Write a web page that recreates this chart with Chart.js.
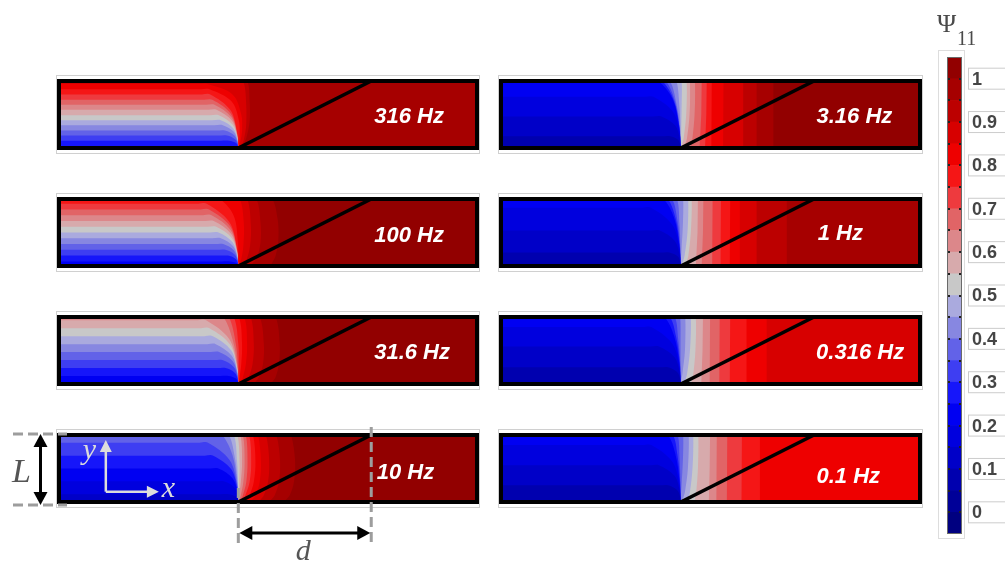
<!DOCTYPE html>
<html>
<head>
<meta charset="utf-8">
<title>Ψ11 field maps</title>
<script src="https://cdn.jsdelivr.net/npm/chart.js@4.4.1/dist/chart.umd.min.js"></script>
<style>
  html, body { margin: 0; padding: 0; background: #fff; }
  body { position: relative; width: 1005px; height: 562px; overflow: hidden; }
  canvas { position: absolute; }
</style>
</head>
<body>
<script>
// ---- colour scale: Ψ11 bands of width 0.05 ----
const bandEdges = [-0.05, 0, 0.05, 0.1, 0.15, 0.2, 0.25, 0.3, 0.35, 0.4, 0.45, 0.5,
                   0.55, 0.6, 0.65, 0.7, 0.75, 0.8, 0.85, 0.9, 0.95, 1.0, 1.05];
const bandColors = [
  'rgb(0,0,128)', 'rgb(0,0,152)', 'rgb(0,0,175)', 'rgb(0,0,200)', 'rgb(0,0,222)',
  'rgb(0,0,242)', 'rgb(22,22,250)', 'rgb(62,62,242)', 'rgb(98,98,232)', 'rgb(135,135,225)',
  'rgb(170,170,222)', 'rgb(200,200,200)', 'rgb(215,170,172)', 'rgb(220,135,138)',
  'rgb(225,100,102)', 'rgb(238,58,62)', 'rgb(245,22,22)', 'rgb(238,0,0)',
  'rgb(215,0,0)', 'rgb(188,0,0)', 'rgb(166,0,0)', 'rgb(146,0,0)'
];
const tickValues = [0, 0.1, 0.2, 0.3, 0.4, 0.5, 0.6, 0.7, 0.8, 0.9, 1];
const tickLabels = ['0', '0.1', '0.2', '0.3', '0.4', '0.5', '0.6', '0.7', '0.8', '0.9', '1'];

// ---- geometry: x in % of the strip length, y in units of L (0 bottom, 1 top) ----
const interfaceX = [42.9, 74.7];   // inclined interface, bottom end and top end

// ---- iso-lines of Ψ11 for each frequency: [level, points]; values below a level lie under its line ----
const field316 = [
  [0.25, [[0,.03],[39.2,.03],[41.2,.03],[42.41,.021],[42.82,.009],[42.9,0]]],
  [0.30, [[0,.108],[38.7,.108],[40.7,.108],[42.26,.077],[42.79,.033],[42.9,0]]],
  [0.35, [[0,.185],[38.2,.185],[40.2,.185],[42.12,.131],[42.77,.057],[42.9,0]]],
  [0.40, [[0,.26],[37.7,.26],[39.7,.26],[41.97,.185],[42.74,.081],[42.9,0]]],
  [0.45, [[0,.34],[37.2,.34],[39.2,.34],[41.83,.241],[42.72,.105],[42.9,0]]],
  [0.50, [[0,.415],[36.7,.415],[38.7,.415],[41.68,.295],[42.69,.129],[42.9,0]]],
  [0.55, [[0,.49],[36.2,.49],[38.2,.49],[41.54,.348],[42.67,.152],[42.9,0]]],
  [0.60, [[0,.57],[35.7,.57],[37.7,.57],[41.39,.405],[42.64,.177],[42.9,0]]],
  [0.65, [[0,.646],[35.2,.646],[37.2,.646],[41.25,.459],[42.62,.2],[42.9,0]]],
  [0.70, [[0,.72],[34.7,.72],[36.7,.72],[41.1,.51],[42.59,.22],[42.9,0]]],
  [0.75, [[0,.80],[34.2,.80],[36.2,.80],[40.96,.57],[42.57,.25],[42.9,0]]],
  [0.80, [[0,.877],[34.0,.877],[36.0,.877],[41.2,.70],[43.0,.42],[43.2,.15],[43.0,0],[43.3,0]]],
  [0.85, [[0,.954],[33.5,.954],[35.5,.954],[41.5,.80],[43.6,.50],[43.8,.25],[43.2,0],[43.9,0]]],
  [0.90, [[0,1],[42.0,1],[44.0,1],[44.8,.65],[44.8,.35],[44.2,.12],[43.5,0],[44.9,0]]],
  [0.95, [[0,1],[43.0,1],[45.0,1],[45.6,.70],[45.6,.40],[44.8,.15],[43.8,0],[45.7,0]]]
];
const field100 = [
  [0.25, [[0,.069],[38.95,.069],[40.95,.069],[42.33,.049],[42.8,.021],[42.9,0]]],
  [0.30, [[0,.155],[38.4,.155],[40.4,.155],[42.18,.11],[42.78,.048],[42.9,0]]],
  [0.35, [[0,.241],[37.8,.241],[39.8,.241],[42.0,.171],[42.75,.075],[42.9,0]]],
  [0.40, [[0,.328],[37.3,.328],[39.3,.328],[41.86,.233],[42.72,.102],[42.9,0]]],
  [0.45, [[0,.414],[36.7,.414],[38.7,.414],[41.68,.294],[42.69,.128],[42.9,0]]],
  [0.50, [[0,.5],[36.15,.5],[38.15,.5],[41.52,.355],[42.66,.155],[42.9,0]]],
  [0.55, [[0,.586],[35.6,.586],[37.6,.586],[41.36,.416],[42.64,.182],[42.9,0]]],
  [0.60, [[0,.672],[35.0,.672],[37.0,.672],[41.19,.477],[42.61,.208],[42.9,0]]],
  [0.65, [[0,.759],[34.5,.759],[36.5,.759],[41.04,.539],[42.58,.235],[42.9,0]]],
  [0.70, [[0,.845],[33.9,.845],[35.9,.845],[40.87,.6],[42.55,.262],[42.9,0]]],
  [0.75, [[0,.93],[33.35,.93],[35.35,.93],[40.71,.66],[42.52,.29],[42.9,0]]],
  [0.80, [[0,1],[36.5,1],[38.5,1],[41.8,.75],[42.8,.35],[43.0,0]]],
  [0.85, [[0,1],[41.2,1],[43.2,1],[44.2,.65],[44.1,.3],[43.6,.1],[43.2,0],[44.3,0]]],
  [0.90, [[0,1],[43.0,1],[45.0,1],[45.9,.6],[45.7,.3],[44.9,.1],[44.0,0],[46.0,0]]],
  [0.95, [[0,1],[45.2,1],[47.2,1],[48.2,.65],[48.2,.35],[47.3,.12],[46.0,0],[48.3,0]]],
  [1.00, [[0,1],[49.0,1],[51.0,1],[52.3,.7],[52.5,.4],[51.8,.15],[50.8,0],[52.6,0]]]
];
const field31_6 = [
  [0.25, [[0,.119],[38.6,.119],[40.6,.119],[42.23,.084],[42.79,.037],[42.9,0]]],
  [0.30, [[0,.238],[37.9,.238],[39.9,.238],[42.03,.169],[42.75,.074],[42.9,0]]],
  [0.35, [[0,.357],[37.1,.357],[39.1,.357],[41.8,.253],[42.71,.111],[42.9,0]]],
  [0.40, [[0,.476],[36.3,.476],[38.3,.476],[41.57,.338],[42.67,.148],[42.9,0]]],
  [0.45, [[0,.595],[35.5,.595],[37.5,.595],[41.33,.422],[42.63,.184],[42.9,0]]],
  [0.50, [[0,.714],[34.8,.714],[36.8,.714],[41.13,.507],[42.6,.221],[42.9,0]]],
  [0.55, [[0,.833],[34.0,.833],[36.0,.833],[40.9,.591],[42.56,.258],[42.9,0]]],
  [0.60, [[0,.952],[33.2,.952],[35.2,.952],[40.67,.676],[42.52,.295],[42.9,0]]],
  [0.65, [[0,1],[37.3,1],[39.3,1],[41.6,.65],[42.65,.28],[42.9,0]]],
  [0.70, [[0,1],[38.6,1],[40.6,1],[42.3,.6],[42.8,.25],[42.9,0]]],
  [0.75, [[0,1],[39.8,1],[41.8,1],[42.9,.6],[43.0,.3],[42.95,0],[43.1,0]]],
  [0.80, [[0,1],[41.0,1],[43.0,1],[43.8,.6],[43.6,.3],[43.2,.1],[43.0,0],[43.9,0]]],
  [0.85, [[0,1],[42.3,1],[44.3,1],[45.0,.6],[44.7,.3],[44.0,.1],[43.5,0],[45.1,0]]],
  [0.90, [[0,1],[43.8,1],[45.8,1],[46.6,.6],[46.3,.3],[45.4,.1],[44.6,0],[46.7,0]]],
  [0.95, [[0,1],[46.0,1],[48.0,1],[49.0,.6],[48.8,.3],[47.8,.1],[46.8,0],[49.1,0]]],
  [1.00, [[0,1],[49.8,1],[51.8,1],[52.8,.6],[52.6,.3],[51.8,.1],[50.8,0],[52.9,0]]]
];
const field10 = [
  [0.15, [[0,.115],[38.65,.115],[40.65,.115],[42.25,.082],[42.79,.036],[42.9,0]]],
  [0.20, [[0,.308],[37.4,.308],[39.4,.308],[41.9,.219],[42.73,.095],[42.9,0]]],
  [0.25, [[0,.5],[36.15,.5],[38.15,.5],[41.52,.355],[42.66,.155],[42.9,0]]],
  [0.30, [[0,.692],[34.9,.692],[36.9,.692],[41.16,.491],[42.6,.215],[42.9,0]]],
  [0.35, [[0,.885],[33.65,.885],[35.65,.885],[40.8,.628],[42.54,.274],[42.9,0]]],
  [0.40, [[0,1],[37.0,1],[39.0,1],[41.5,.7],[42.6,.3],[42.9,0]]],
  [0.45, [[0,1],[38.6,1],[40.6,1],[42.1,.65],[42.75,.28],[42.9,0]]],
  [0.50, [[0,1],[39.8,1],[41.8,1],[42.6,.6],[42.85,.3],[42.9,0]]],
  [0.55, [[0,1],[41.7,1],[42.7,1],[43.2,.6],[43.1,.3],[42.95,.1],[42.9,0],[43.3,0]]],
  [0.60, [[0,1],[42.4,1],[43.4,1],[43.8,.6],[43.5,.3],[43.1,.1],[43.0,0],[43.9,0]]],
  [0.65, [[0,1],[43.0,1],[44.0,1],[44.4,.6],[44.1,.3],[43.5,.1],[43.2,0],[44.5,0]]],
  [0.70, [[0,1],[43.7,1],[44.7,1],[45.1,.6],[44.8,.3],[44.0,.1],[43.5,0],[45.2,0]]],
  [0.75, [[0,1],[44.5,1],[45.5,1],[46.0,.6],[45.6,.3],[44.6,.1],[44.0,0],[46.1,0]]],
  [0.80, [[0,1],[45.4,1],[46.4,1],[47.0,.6],[46.6,.3],[45.6,.1],[44.8,0],[47.1,0]]],
  [0.85, [[0,1],[46.6,1],[47.6,1],[48.3,.6],[48.0,.3],[47.0,.1],[46.0,0],[48.4,0]]],
  [0.90, [[0,1],[48.5,1],[49.5,1],[50.3,.6],[50.0,.3],[49.0,.1],[48.0,0],[50.4,0]]],
  [0.95, [[0,1],[51.0,1],[52.0,1],[52.9,.6],[52.6,.3],[51.6,.1],[50.5,0],[53.0,0]]],
  [1.00, [[0,1],[54.5,1],[55.5,1],[56.5,.6],[56.2,.3],[55.2,.1],[54.0,0],[56.6,0]]]
];
const field3_16 = [
  [0.10, [[0,.176],[38.4,.176],[40.4,.176],[42.25,.125],[42.77,.055],[42.9,0]]],
  [0.15, [[0,.47],[36.3,.47],[38.3,.47],[41.57,.334],[42.67,.146],[42.9,0]]],
  [0.20, [[0,.765],[34.4,.765],[36.4,.765],[41.0,.543],[42.58,.237],[42.9,0]]],
  [0.25, [[0,1],[35.5,1],[37.5,1],[40.9,.74],[42.5,.32],[42.9,0]]],
  [0.30, [[0,1],[36.5,1],[38.5,1],[41.2,.72],[42.55,.32],[42.9,0]]],
  [0.35, [[0,1],[37.3,1],[39.3,1],[41.5,.7],[42.6,.3],[42.9,0]]],
  [0.40, [[0,1],[38.3,1],[40.3,1],[41.9,.65],[42.7,.3],[42.9,0]]],
  [0.45, [[0,1],[40.9,1],[41.9,1],[42.6,.6],[42.85,.25],[42.9,0]]],
  [0.50, [[0,1],[42.6,1],[43.1,1],[43.1,.6],[43.0,.25],[42.9,0],[43.2,0]]],
  [0.55, [[0,1],[43.8,1],[44.3,1],[44.2,.5],[43.6,.15],[43.2,0],[44.4,0]]],
  [0.60, [[0,1],[44.6,1],[45.1,1],[45.0,.5],[44.4,.15],[43.9,0],[45.2,0]]],
  [0.65, [[0,1],[45.8,1],[46.3,1],[46.2,.5],[45.7,.15],[45.3,0],[46.4,0]]],
  [0.70, [[0,1],[47.9,1],[47.8,.5],[47.4,0],[100,0]]],
  [0.75, [[0,1],[49.1,1],[49.0,.5],[48.7,0],[100,0]]],
  [0.80, [[0,1],[50.3,1],[50.2,0],[100,0]]],
  [0.85, [[0,1],[53.1,1],[53.0,0],[100,0]]],
  [0.90, [[0,1],[57.8,1],[57.8,0],[100,0]]],
  [0.95, [[0,1],[61.0,1],[61.0,0],[100,0]]],
  [1.00, [[0,1],[65.0,1],[65.0,0],[100,0]]]
];
const field1 = [
  [0.10, [[0,.2],[38.2,.2],[40.2,.2],[42.2,.142],[42.76,.062],[42.9,0]]],
  [0.15, [[0,.53],[35.9,.53],[37.9,.53],[41.45,.376],[42.65,.164],[42.9,0]]],
  [0.20, [[0,.87],[33.8,.87],[35.8,.87],[40.84,.618],[42.55,.27],[42.9,0]]],
  [0.25, [[0,1],[36.8,1],[38.8,1],[41.3,.72],[42.55,.32],[42.9,0]]],
  [0.30, [[0,1],[37.8,1],[39.8,1],[41.7,.7],[42.65,.3],[42.9,0]]],
  [0.35, [[0,1],[38.8,1],[40.8,1],[42.1,.68],[42.75,.28],[42.9,0]]],
  [0.40, [[0,1],[40.5,1],[42.0,1],[42.6,.62],[42.85,.25],[42.9,0]]],
  [0.45, [[0,1],[43.0,1],[43.5,1],[43.4,.6],[43.1,.25],[42.95,0],[43.6,0]]],
  [0.50, [[0,1],[44.2,1],[44.7,1],[44.5,.5],[43.8,.15],[43.3,0],[44.8,0]]],
  [0.55, [[0,1],[45.0,1],[45.5,1],[45.3,.5],[44.7,.15],[44.2,0],[45.6,0]]],
  [0.60, [[0,1],[47.0,1],[46.9,.5],[46.5,0],[100,0]]],
  [0.65, [[0,1],[48.3,1],[48.2,.5],[47.9,0],[100,0]]],
  [0.70, [[0,1],[50.5,1],[50.4,0],[100,0]]],
  [0.75, [[0,1],[52.5,1],[52.4,0],[100,0]]],
  [0.80, [[0,1],[54.7,1],[54.6,0],[100,0]]],
  [0.85, [[0,1],[57.0,1],[57.0,0],[100,0]]],
  [0.90, [[0,1],[61.0,1],[61.0,0],[100,0]]],
  [0.95, [[0,1],[68.2,1],[68.2,0],[100,0]]]
];
const field0_316 = [
  [0.10, [[0,.25],[37.9,.25],[39.9,.25],[42.03,.178],[42.75,.078],[42.9,0]]],
  [0.15, [[0,.56],[35.7,.56],[37.7,.56],[41.4,.4],[42.64,.174],[42.9,0]]],
  [0.20, [[0,.85],[33.9,.85],[35.9,.85],[40.88,.6],[42.55,.264],[42.9,0]]],
  [0.25, [[0,1],[37.0,1],[39.0,1],[41.3,.72],[42.55,.32],[42.9,0]]],
  [0.30, [[0,1],[38.3,1],[40.3,1],[41.8,.7],[42.7,.3],[42.9,0]]],
  [0.35, [[0,1],[40.0,1],[41.5,1],[42.3,.66],[42.8,.28],[42.9,0]]],
  [0.40, [[0,1],[42.3,1],[42.8,1],[42.9,.6],[42.9,.25],[42.9,0]]],
  [0.45, [[0,1],[43.5,1],[44.0,1],[43.9,.5],[43.3,.15],[43.0,0],[44.1,0]]],
  [0.50, [[0,1],[44.8,1],[45.3,1],[45.1,.5],[44.4,.15],[43.9,0],[45.4,0]]],
  [0.55, [[0,1],[46.0,1],[46.5,1],[46.4,.5],[45.9,.15],[45.5,0],[46.6,0]]],
  [0.60, [[0,1],[48.2,1],[48.1,.5],[47.8,0],[100,0]]],
  [0.65, [[0,1],[49.9,1],[49.8,0],[100,0]]],
  [0.70, [[0,1],[52.2,1],[52.1,0],[100,0]]],
  [0.75, [[0,1],[54.7,1],[54.6,0],[100,0]]],
  [0.80, [[0,1],[58.6,1],[58.6,0],[100,0]]],
  [0.85, [[0,1],[63.4,1],[63.4,0],[100,0]]]
];
const field0_1 = [
  [0.10, [[0,.25],[37.9,.25],[39.9,.25],[42.03,.178],[42.75,.078],[42.9,0]]],
  [0.15, [[0,.55],[35.7,.55],[37.7,.55],[41.4,.39],[42.64,.17],[42.9,0]]],
  [0.20, [[0,.85],[33.9,.85],[35.9,.85],[40.88,.6],[42.55,.264],[42.9,0]]],
  [0.25, [[0,1],[37.8,1],[39.8,1],[41.6,.72],[42.6,.32],[42.9,0]]],
  [0.30, [[0,1],[39.0,1],[41.0,1],[42.1,.7],[42.75,.3],[42.9,0]]],
  [0.35, [[0,1],[41.2,1],[42.2,1],[42.6,.66],[42.85,.28],[42.9,0]]],
  [0.40, [[0,1],[43.0,1],[43.5,1],[43.4,.6],[43.1,.25],[42.95,0],[43.6,0]]],
  [0.45, [[0,1],[44.3,1],[44.8,1],[44.6,.5],[43.9,.15],[43.4,0],[44.9,0]]],
  [0.50, [[0,1],[45.4,1],[45.9,1],[45.7,.5],[45.1,.15],[44.6,0],[46.0,0]]],
  [0.55, [[0,1],[46.6,1],[47.1,1],[47.0,.5],[46.6,.15],[46.3,0],[47.2,0]]],
  [0.60, [[0,1],[49.9,1],[49.8,.5],[49.6,0],[100,0]]],
  [0.65, [[0,1],[51.5,1],[51.4,0],[100,0]]],
  [0.70, [[0,1],[54.0,1],[53.9,0],[100,0]]],
  [0.75, [[0,1],[57.5,1],[57.4,0],[100,0]]],
  [0.80, [[0,1],[61.8,1],[61.8,0],[100,0]]]
];

// panels, left column top to bottom, then right column
const frequencyLabels = ['316 Hz', '100 Hz', '31.6 Hz', '10 Hz', '3.16 Hz', '1 Hz', '0.316 Hz', '0.1 Hz'];
const panelFields = [field316, field100, field31_6, field10, field3_16, field1, field0_316, field0_1];
const panelMax = [0.97, 1.02, 1.02, 1.02, 1.02, 0.97, 0.87, 0.82];   // Ψ11 at the right end of each strip
const labelX = [75.4, 75.4, 75.4, 76.0, 75.3, 75.6, 75.2, 75.3];
const labelY = [0.37, 0.36, 0.38, 0.35, 0.37, 0.39, 0.37, 0.28];

// ---- helpers ----
function bandColor(v) {
  if (v < bandEdges[0]) return bandColors[0];
  for (let k = 0; k < bandEdges.length - 1; k++) {
    if (v >= bandEdges[k] && v < bandEdges[k + 1]) return bandColors[k];
  }
  return bandColors[bandColors.length - 1];
}

function addCanvas(left, top, w, h) {
  const c = document.createElement('canvas');
  c.width = w; c.height = h;
  c.style.left = left + 'px'; c.style.top = top + 'px';
  c.style.width = w + 'px'; c.style.height = h + 'px';
  document.body.appendChild(c);
  return c;
}

const panelDecor = {
  id: 'panelDecor',
  beforeDatasetsDraw(chart) {
    const {ctx, chartArea: a} = chart;
    ctx.save();
    ctx.strokeStyle = '#d0d0d0';
    ctx.lineWidth = 1;
    ctx.strokeRect(a.left - 2.5, a.top - 5.5, a.width + 5, a.height + 11);
    ctx.restore();
  },
  afterDatasetsDraw(chart, args, opts) {
    const {ctx, chartArea: a, scales: {x, y}} = chart;
    ctx.save();
    ctx.strokeStyle = '#000';
    ctx.lineWidth = 4;
    ctx.strokeRect(a.left, a.top, a.width, a.height);
    ctx.fillStyle = '#fff';
    ctx.font = 'italic bold 22px "Liberation Sans", Arial, sans-serif';
    ctx.textBaseline = 'alphabetic';
    ctx.textAlign = 'left';
    ctx.fillText(opts.label, x.getPixelForValue(opts.lx), y.getPixelForValue(opts.ly));
    ctx.restore();
  }
};

function arrowHead(ctx, x, y, dx, dy, len, half, color) {
  const n = Math.hypot(dx, dy), ux = dx / n, uy = dy / n;
  ctx.fillStyle = color;
  ctx.beginPath();
  ctx.moveTo(x, y);
  ctx.lineTo(x - ux * len - uy * half, y - uy * len + ux * half);
  ctx.lineTo(x - ux * len + uy * half, y - uy * len - ux * half);
  ctx.closePath();
  ctx.fill();
}
function segment(ctx, x1, y1, x2, y2) {
  ctx.beginPath(); ctx.moveTo(x1, y1); ctx.lineTo(x2, y2); ctx.stroke();
}

// sketch of the strip height L, interface offset d and the x-y frame
const schematic = {
  id: 'schematic',
  afterDraw(chart) {
    const {ctx, chartArea: a, scales: {x, y}} = chart;
    const top = y.getPixelForValue(1), bot = y.getPixelForValue(0);
    const xa = x.getPixelForValue(interfaceX[0]), xb = x.getPixelForValue(interfaceX[1]);
    ctx.save();
    ctx.strokeStyle = '#9d9d9d';
    ctx.lineWidth = 3;
    ctx.setLineDash([10, 5]);
    segment(ctx, a.left - 46, top - 1, a.left + 8, top - 1);
    segment(ctx, a.left - 46, bot + 3, a.left + 8, bot + 3);
    segment(ctx, xa, bot - 14, xa, bot + 43);
    segment(ctx, xb, top - 8, xb, bot + 43);
    ctx.setLineDash([]);

    // L arrow
    const lx = a.left - 18.5;
    ctx.strokeStyle = '#000';
    ctx.lineWidth = 3;
    segment(ctx, lx, top + 8, lx, bot - 6);
    arrowHead(ctx, lx, top - 1, 0, -1, 13, 7, '#000');
    arrowHead(ctx, lx, bot + 3, 0, 1, 13, 7, '#000');
    // d arrow
    const dy = bot + 31;
    segment(ctx, xa + 8, dy, xb - 8, dy);
    arrowHead(ctx, xa + 1, dy, -1, 0, 13, 7, '#000');
    arrowHead(ctx, xb - 1, dy, 1, 0, 13, 7, '#000');

    // x-y frame inside the strip
    const ox = x.getPixelForValue(11.2), oy = y.getPixelForValue(0.154);
    const tx = x.getPixelForValue(23.9), ty = y.getPixelForValue(0.925);
    ctx.strokeStyle = '#dcdcdc';
    ctx.lineWidth = 2.5;
    segment(ctx, ox, oy, ox, ty + 8);
    segment(ctx, ox, oy, tx - 8, oy);
    arrowHead(ctx, ox, ty, 0, -1, 12, 6, '#dcdcdc');
    arrowHead(ctx, tx, oy, 1, 0, 12, 6, '#dcdcdc');

    ctx.font = 'italic 30px "Liberation Serif", "DejaVu Serif", serif';
    ctx.textBaseline = 'alphabetic';
    ctx.fillStyle = '#dcdcdc';
    ctx.fillText('y', x.getPixelForValue(5.7), y.getPixelForValue(0.64));
    ctx.fillText('x', x.getPixelForValue(24.6), y.getPixelForValue(0.075));
    ctx.fillStyle = '#555';
    ctx.font = 'italic 34px "Liberation Serif", "DejaVu Serif", serif';
    ctx.fillText('L', a.left - 47, bot - 20);
    ctx.font = 'italic 30px "Liberation Serif", "DejaVu Serif", serif';
    ctx.fillText('d', (xa + xb) / 2 - 9, bot + 58);
    ctx.restore();
  }
};

// ---- the eight strips ----
const colLeft = [0, 490], colPadL = [59, 11], colPadR = [13, 15], colWidth = [490, 445];
const rowTop = [69, 187, 305, 423];

panelFields.forEach((field, idx) => {
  const col = idx < 4 ? 0 : 1, row = idx % 4;
  const h = row === 3 ? 139 : 91;
  const cv = addCanvas(colLeft[col], rowTop[row], colWidth[col], h);
  const datasets = [{
    data: [[interfaceX[0], 0], [interfaceX[1], 1]],
    borderColor: '#000', borderWidth: 3.5, pointRadius: 0, fill: false, tension: 0, order: 0
  }];
  field.forEach((c, k) => {
    const pts = c[1];
    const straight = pts[pts.length - 1][0] === 100;   // full-width straight bands
    datasets.push({
      data: pts, backgroundColor: bandColor(c[0] - 0.025), borderColor: 'rgba(0,0,0,0)',
      borderWidth: 0, pointRadius: 0, fill: 'start', tension: straight ? 0 : 0.35, order: 1 + k
    });
  });
  datasets.push({
    data: [[0, 1], [100, 1]], backgroundColor: bandColor(panelMax[idx]), borderColor: 'rgba(0,0,0,0)',
    borderWidth: 0, pointRadius: 0, fill: 'start', tension: 0, order: 999
  });
  new Chart(cv, {
    type: 'line',
    data: { datasets },
    options: {
      responsive: false, animation: false, devicePixelRatio: 1, events: [],
      layout: { padding: { left: colPadL[col], right: colPadR[col], top: 12, bottom: h - 12 - 67 } },
      scales: {
        x: { type: 'linear', min: 0, max: 100, display: false },
        y: { type: 'linear', min: 0, max: 1, display: false }
      },
      plugins: {
        legend: { display: false }, tooltip: { enabled: false },
        panelDecor: { label: frequencyLabels[idx], lx: labelX[idx], ly: labelY[idx] }
      }
    },
    plugins: row === 3 && col === 0 ? [panelDecor, schematic] : [panelDecor]
  });
});

// ---- colour bar ----
const barDecor = {
  id: 'barDecor',
  beforeDatasetsDraw(chart) {
    const {ctx, chartArea: a} = chart;
    ctx.save();
    ctx.strokeStyle = '#dddddd';
    ctx.lineWidth = 1;
    ctx.strokeRect(a.left - 8.5, a.top - 6.5, a.width + 11, a.height + 11);
    ctx.restore();
  },
  afterDatasetsDraw(chart) {
    const {ctx, chartArea: a, scales: {y}} = chart;
    ctx.save();
    ctx.strokeStyle = '#6a6a6a';
    ctx.lineWidth = 1;
    ctx.strokeRect(a.left + 0.5, a.top + 0.5, a.width - 1, a.height - 1);
    ctx.fillStyle = '#222';
    bandEdges.slice(1, -1).forEach(v => {
      const py = Math.round(y.getPixelForValue(v));
      ctx.fillRect(a.left + 1, py - 1, 2, 2);
      ctx.fillRect(a.right - 3, py - 1, 2, 2);
    });
    ctx.font = 'bold 18px "Liberation Sans", Arial, sans-serif';
    ctx.textBaseline = 'middle';
    tickValues.forEach((v, i) => {
      const py = y.getPixelForValue(v);
      ctx.fillStyle = '#fff';
      ctx.fillRect(a.right + 6.5, py - 10.5, 60, 21);
      ctx.strokeStyle = '#cccccc';
      ctx.strokeRect(a.right + 6.5, py - 10.5, 60, 21);
      ctx.fillStyle = '#454545';
      ctx.fillText(tickLabels[i], a.right + 10, py + 1);
    });
    ctx.fillStyle = '#4a4a4a';
    ctx.textBaseline = 'alphabetic';
    ctx.font = '26px "Liberation Serif", "DejaVu Serif", serif';
    ctx.fillText('Ψ', a.left - 10, a.top - 25);
    ctx.font = '20px "Liberation Serif", "DejaVu Serif", serif';
    ctx.fillText('11', a.left + 10, a.top - 12);
    ctx.restore();
  }
};

const barCanvas = addCanvas(930, 0, 75, 562);
new Chart(barCanvas, {
  type: 'bar',
  data: {
    labels: ['Ψ11'],
    datasets: bandColors.map((c, i) => ({
      data: [[bandEdges[i], bandEdges[i + 1]]],
      backgroundColor: c, borderWidth: 0, grouped: false,
      barPercentage: 1, categoryPercentage: 1
    }))
  },
  options: {
    responsive: false, animation: false, devicePixelRatio: 1, events: [],
    layout: { padding: { left: 17, right: 43, top: 57, bottom: 28 } },
    scales: {
      x: { display: false },
      y: { display: false, min: bandEdges[0], max: bandEdges[bandEdges.length - 1] }
    },
    plugins: { legend: { display: false }, tooltip: { enabled: false } }
  },
  plugins: [barDecor]
});
</script>
</body>
</html>
